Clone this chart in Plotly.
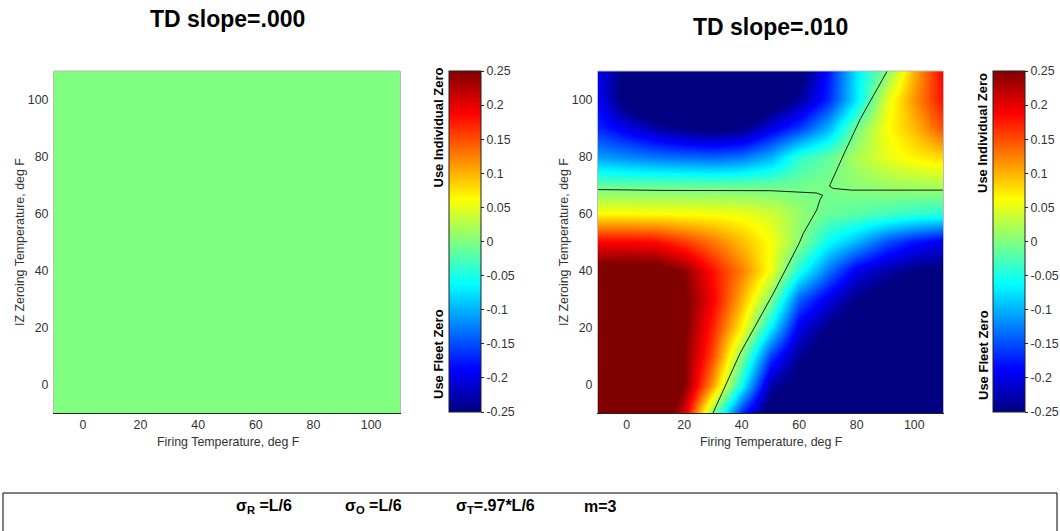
import plotly.graph_objects as go

W, H = 1060, 531
FONT = "Liberation Sans, Arial, Helvetica, sans-serif"

# ---------------- data ----------------
firing_temp = [-10, 0, 10, 20, 30, 40, 50, 60, 70, 80, 90, 100, 110]
zeroing_temp = [-10, 0, 10, 20, 30, 40, 50, 60, 70, 80, 90, 100, 110]

# TD slope = .010 surface (rows = zeroing temp from -10 to 110)
td010_z = [
    [0.32, 0.32, 0.31, 0.21, 0.0, -0.17, -0.28, -0.3, -0.3, -0.3, -0.3, -0.3, -0.3],
    [0.32, 0.32, 0.31, 0.25, 0.11, -0.06, -0.23, -0.27, -0.29, -0.3, -0.3, -0.3, -0.3],
    [0.31, 0.31, 0.3, 0.25, 0.15, 0.0, -0.16, -0.24, -0.28, -0.3, -0.3, -0.3, -0.3],
    [0.31, 0.31, 0.3, 0.255, 0.17, 0.065, -0.07, -0.2, -0.25, -0.28, -0.29, -0.3, -0.3],
    [0.3, 0.3, 0.29, 0.255, 0.19, 0.1, 0.0, -0.14, -0.2, -0.25, -0.27, -0.28, -0.29],
    [0.27, 0.27, 0.27, 0.245, 0.18, 0.125, 0.055, -0.05, -0.13, -0.2, -0.23, -0.25, -0.26],
    [0.19, 0.19, 0.185, 0.16, 0.13, 0.095, 0.06, 0.005, -0.06, -0.1, -0.15, -0.18, -0.2],
    [0.065, 0.065, 0.063, 0.062, 0.06, 0.055, 0.04, 0.012, -0.012, -0.02, -0.03, -0.04, -0.045],
    [-0.015, -0.015, -0.015, -0.015, -0.015, -0.014, -0.012, -0.008, -0.002, 0.006, 0.014, 0.018, 0.022],
    [-0.11, -0.12, -0.13, -0.135, -0.14, -0.13, -0.1, -0.04, -0.015, 0.022, 0.05, 0.068, 0.08],
    [-0.17, -0.2, -0.23, -0.25, -0.26, -0.25, -0.2, -0.16, -0.1, -0.005, 0.06, 0.095, 0.15],
    [-0.19, -0.27, -0.32, -0.34, -0.34, -0.33, -0.28, -0.235, -0.17, -0.07, 0.045, 0.115, 0.18],
    [-0.2, -0.26, -0.3, -0.32, -0.32, -0.3, -0.28, -0.27, -0.18, -0.07, 0.0, 0.1, 0.19],
]

# TD slope = .000 surface: flat zero everywhere
td000_x = [-10, 110]
td000_y = [-10, 110]
td000_z = [[0.0, 0.0], [0.0, 0.0]]

# zero contour of the TD slope = .010 surface (two branches)
contour_a_x = [-10, 13, 50, 62.6, 66, 68.1, 67.2, 66.1, 63.7, 61.4, 60.0, 51.0, 39.4, 30.0]
contour_a_y = [68.4, 68.1, 68.0, 67.5, 67.2, 66.4, 64.8, 61.3, 57.3, 53.0, 49.6, 32.0, 10.9, -10]
contour_b_x = [90.6, 81.3, 75.6, 70.5, 71.8, 78.2, 110]
contour_b_y = [110, 93.3, 81.0, 69.6, 68.8, 68.2, 68.2]

axis_ticks = [0, 20, 40, 60, 80, 100]
cb_ticks = [0.25, 0.2, 0.15, 0.1, 0.05, 0, -0.05, -0.1, -0.15, -0.2, -0.25]
cb_labels = ["0.25", "0.2", "0.15", "0.1", "0.05", "0", "-0.05", "-0.1", "-0.15", "-0.2", "-0.25"]

titles = ["TD slope=.000", "TD slope=.010"]
x_title = "Firing Temperature, deg F"
y_title = "IZ Zeroing Temperature, deg F"
cb_top_label = "Use Individual Zero"
cb_bottom_label = "Use Fleet Zero"
footer_parts = ["σ<sub>R</sub> =L/6", "σ<sub>O</sub> =L/6", "σ<sub>T</sub>=.97*L/6", "m=3"]

# ---------------- styling ----------------
jet = [[0.0, "rgb(0,0,128)"], [0.125, "rgb(0,0,255)"], [0.375, "rgb(0,255,255)"],
       [0.5, "rgb(128,255,128)"], [0.625, "rgb(255,255,0)"], [0.875, "rgb(255,0,0)"],
       [1.0, "rgb(128,0,0)"]]


def px(x):
    return x / W


def py(y):
    return 1 - y / H


def colorbar(left):
    return dict(x=px(left), xanchor="left", y=py(71), yanchor="top",
                len=341, lenmode="pixels", thickness=32, thicknessmode="pixels",
                xpad=0, ypad=0, outlinewidth=1, outlinecolor="#222",
                tickmode="array", tickvals=cb_ticks, ticktext=cb_labels,
                ticks="outside", ticklen=3, tickcolor="#222",
                tickfont=dict(family=FONT, size=12.4, color="#333"))


fig = go.Figure()
fig.add_trace(go.Heatmap(x=td000_x, y=td000_y, z=td000_z, zmin=-0.25, zmax=0.25,
                         colorscale=jet, zsmooth="best", colorbar=colorbar(449),
                         xaxis="x", yaxis="y", hoverinfo="skip"))
fig.add_trace(go.Heatmap(x=firing_temp, y=zeroing_temp, z=td010_z, zmin=-0.25, zmax=0.25,
                         colorscale=jet, zsmooth="best", colorbar=colorbar(993),
                         xaxis="x2", yaxis="y2", hoverinfo="skip"))
for cx, cy in [(contour_a_x, contour_a_y), (contour_b_x, contour_b_y)]:
    fig.add_trace(go.Scatter(x=cx, y=cy, mode="lines", xaxis="x2", yaxis="y2",
                             line=dict(color="#1a1a1a", width=1), showlegend=False,
                             hoverinfo="skip"))

tickfont = dict(family=FONT, size=12.4, color="#333")
xcommon = dict(range=[-10, 110], tickmode="array", tickvals=axis_ticks, ticks="",
               showgrid=False, zeroline=False, showline=True, linecolor="#222",
               linewidth=1, tickfont=tickfont, ticklabelstandoff=0)
ycommon = dict(range=[-10, 110], tickmode="array", tickvals=axis_ticks, ticks="",
               showgrid=False, zeroline=False, showline=True, linecolor="#bbb",
               linewidth=1, mirror=True, tickfont=tickfont, ticklabelstandoff=2,
               domain=[py(413), py(71)])

annotations = []
shapes = []
panels = [(54, 400, 19), (598, 943, 27.5)]
for i, (l, r, ty) in enumerate(panels):
    cx = (l + r) / 2
    annotations.append(dict(x=px(cx), y=py(ty), xref="paper", yref="paper", text="<b>%s</b>" % titles[i],
                            showarrow=False, xanchor="center", yanchor="middle",
                            font=dict(family=FONT, size=23, color="#000")))
    annotations.append(dict(x=px(cx + 1), y=py(442), xref="paper", yref="paper", text=x_title,
                            showarrow=False, xanchor="center", yanchor="middle",
                            font=dict(family=FONT, size=12.4, color="#333")))
    annotations.append(dict(x=px(l - 34), y=py(242), xref="paper", yref="paper", text=y_title,
                            showarrow=False, xanchor="center", yanchor="middle", textangle=-90,
                            font=dict(family=FONT, size=12.4, color="#333")))
    shapes.append(dict(type="line", xref="paper", yref="paper", x0=px(l), x1=px(r),
                       y0=py(71), y1=py(71), line=dict(color="#bbb", width=1)))

for cbx, top_c, bot_c in [(438, 127.5, 354), (983, 133, 355)]:
    annotations.append(dict(x=px(cbx), y=py(top_c), xref="paper", yref="paper",
                            text="<b>%s</b>" % cb_top_label, showarrow=False, textangle=-90,
                            xanchor="center", yanchor="middle",
                            font=dict(family=FONT, size=13, color="#000")))
    annotations.append(dict(x=px(cbx), y=py(bot_c), xref="paper", yref="paper",
                            text="<b>%s</b>" % cb_bottom_label, showarrow=False, textangle=-90,
                            xanchor="center", yanchor="middle",
                            font=dict(family=FONT, size=13, color="#000")))

for txt, cx in zip(footer_parts, [264, 373, 495, 600]):
    annotations.append(dict(x=px(cx), y=py(506), xref="paper", yref="paper",
                            text="<b>%s</b>" % txt, showarrow=False,
                            xanchor="center", yanchor="middle",
                            font=dict(family=FONT, size=16, color="#000")))

shapes.append(dict(type="rect", xref="paper", yref="paper", x0=px(3), x1=px(1057),
                   y0=py(545), y1=py(493), line=dict(color="#000", width=1)))

fig.update_layout(
    width=W, height=H,
    margin=dict(l=0, r=0, t=0, b=0, autoexpand=False),
    paper_bgcolor="white", plot_bgcolor="white",
    showlegend=False,
    xaxis=dict(xcommon, domain=[px(54), px(400)], anchor="y"),
    yaxis=dict(ycommon, anchor="x"),
    xaxis2=dict(xcommon, domain=[px(598), px(943)], anchor="y2"),
    yaxis2=dict(ycommon, anchor="x2"),
    annotations=annotations,
    shapes=shapes,
)

fig.write_html("out.html", config={"displayModeBar": False},
               post_script="document.body.style.margin='0px';document.body.style.overflow='hidden';")
